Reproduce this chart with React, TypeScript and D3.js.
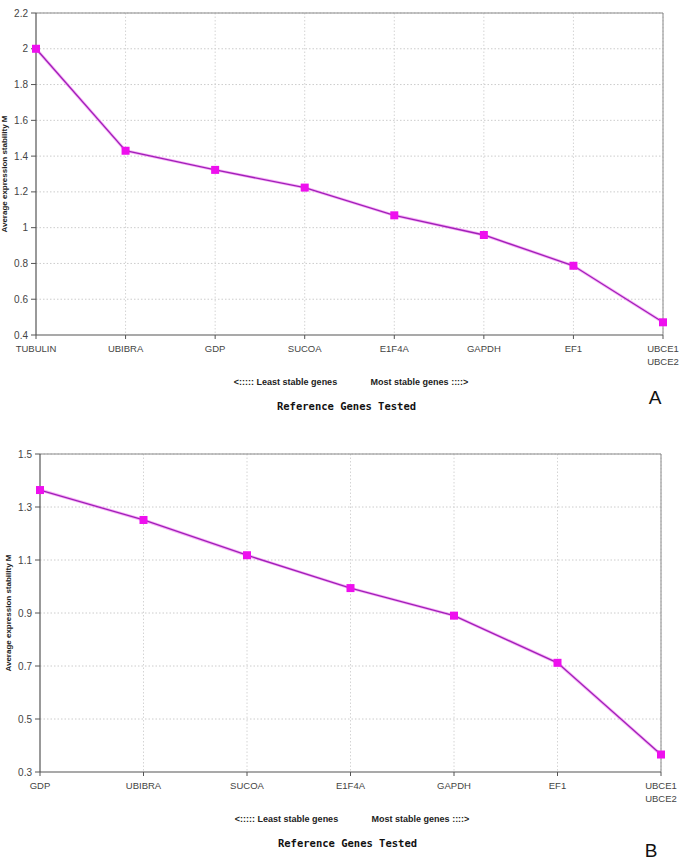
import React from "react";
import * as d3 from "d3";

const genesA = ["TUBULIN", "UBIBRA", "GDP", "SUCOA", "E1F4A", "GAPDH", "EF1", "UBCE1\nUBCE2"];
const valuesA = [2.0, 1.43, 1.323, 1.224, 1.069, 0.959, 0.787, 0.471];
const ticksA = [0.4, 0.6, 0.8, 1.0, 1.2, 1.4, 1.6, 1.8, 2.0, 2.2];

const genesB = ["GDP", "UBIBRA", "SUCOA", "E1F4A", "GAPDH", "EF1", "UBCE1\nUBCE2"];
const valuesB = [1.364, 1.251, 1.118, 0.994, 0.89, 0.712, 0.366];
const ticksB = [0.3, 0.5, 0.7, 0.9, 1.1, 1.3, 1.5];

const yTitle = "Average expression stability M";
const leastLabel = "<::::: Least stable genes";
const mostLabel = "Most stable genes ::::>";
const xTitle = "Reference Genes Tested";

type ChartProps = {
  genes: string[];
  values: number[];
  ticks: number[];
  left: number;
  right: number;
  top: number;
  bottom: number;
  letter: string;
  letterX: number;
  letterY: number;
  tickFmt: (v: number) => string;
};

function Chart({ genes, values, ticks, left, right, top, bottom, letter, letterX, letterY, tickFmt }: ChartProps) {
  const x = d3.scalePoint<string>().domain(genes).range([left, right]);
  const y = d3.scaleLinear().domain([ticks[0], ticks[ticks.length - 1]]).range([bottom, top]);
  const pts = genes.map((g, i) => [x(g) as number, y(values[i])] as [number, number]);
  const line = d3.line()(pts) || "";
  const midX = (left + right) / 2;
  return (
    <g>
      {ticks.slice(1).map((t) => (
        <line key={"h" + t} x1={left} x2={right} y1={y(t)} y2={y(t)} stroke="#cccccc" strokeWidth={1} strokeDasharray="1.5,2" />
      ))}
      {genes.slice(1).map((g) => (
        <line key={"v" + g} x1={x(g)} x2={x(g)} y1={top} y2={bottom} stroke="#d4d4d4" strokeWidth={1} strokeDasharray="1.5,2" />
      ))}
      <line x1={left} x2={right} y1={top} y2={top} stroke="#8a8a8a" strokeWidth={1} />
      <line x1={right} x2={right} y1={top} y2={bottom} stroke="#8a8a8a" strokeWidth={1} />
      <line x1={left} x2={left} y1={top} y2={bottom} stroke="#555" strokeWidth={1.2} />
      <line x1={left} x2={right} y1={bottom} y2={bottom} stroke="#555" strokeWidth={1.2} />
      {ticks.map((t) => (
        <g key={"yt" + t}>
          <line x1={left - 5} x2={left} y1={y(t)} y2={y(t)} stroke="#555" />
          <text x={left - 8} y={y(t)} dy="0.35em" textAnchor="end" fontSize={10} fontFamily="Liberation Sans, Arial, sans-serif" fill="#444">
            {tickFmt(t)}
          </text>
        </g>
      ))}
      {genes.map((g) => (
        <g key={"xt" + g}>
          <line x1={x(g)} x2={x(g)} y1={bottom} y2={bottom + 4} stroke="#555" />
          {g.split("\n").map((part, j) => (
            <text key={j} x={x(g)} y={bottom + 17 + j * 13} textAnchor="middle" fontSize={9.5} fontFamily="Liberation Sans, Arial, sans-serif" fill="#444">
              {part}
            </text>
          ))}
        </g>
      ))}
      <path d={line} fill="none" stroke="#f070f0" strokeWidth={3} strokeOpacity={0.55} />
      <path d={line} fill="none" stroke="#a020b8" strokeWidth={1.3} />
      {pts.map(([px, py], i) => (
        <rect key={"m" + i} x={px - 4} y={py - 4} width={8} height={8} fill="#ee10ee" />
      ))}
      <text
        transform={`translate(${left - 29},${(top + bottom) / 2}) rotate(-90)`}
        textAnchor="middle"
        fontSize={8}
        fontWeight="bold"
        fontFamily="Liberation Sans, Arial, sans-serif"
        fill="#222"
      >
        {yTitle}
      </text>
      <text x={midX - 64} y={bottom + 50} textAnchor="middle" fontSize={9} fontWeight="bold" fontFamily="Liberation Sans, Arial, sans-serif" fill="#222">
        {leastLabel}
      </text>
      <text x={midX + 70} y={bottom + 50} textAnchor="middle" fontSize={9} fontWeight="bold" fontFamily="Liberation Sans, Arial, sans-serif" fill="#222">
        {mostLabel}
      </text>
      <text x={midX - 3} y={bottom + 75} textAnchor="middle" fontSize={10.5} fontWeight="bold" fontFamily="DejaVu Sans Mono, monospace" fill="#111">
        {xTitle}
      </text>
      <text x={letterX} y={letterY} textAnchor="middle" fontSize={19} fontFamily="Liberation Sans, Arial, sans-serif" fill="#111">
        {letter}
      </text>
    </g>
  );
}

export default function App() {
  return (
    <svg width={685} height={862} style={{ position: "absolute", left: 0, top: 0, background: "#fff" }}>
      <rect width={685} height={862} fill="#fff" />
      <Chart
        genes={genesA}
        values={valuesA}
        ticks={ticksA}
        left={36}
        right={663}
        top={13}
        bottom={335}
        letter="A"
        letterX={655}
        letterY={404}
        tickFmt={(v) => d3.format("~g")(+v.toFixed(1))}
      />
      <Chart
        genes={genesB}
        values={valuesB}
        ticks={ticksB}
        left={40}
        right={661}
        top={454}
        bottom={772}
        letter="B"
        letterX={651}
        letterY={857}
        tickFmt={(v) => v.toFixed(1)}
      />
    </svg>
  );
}
